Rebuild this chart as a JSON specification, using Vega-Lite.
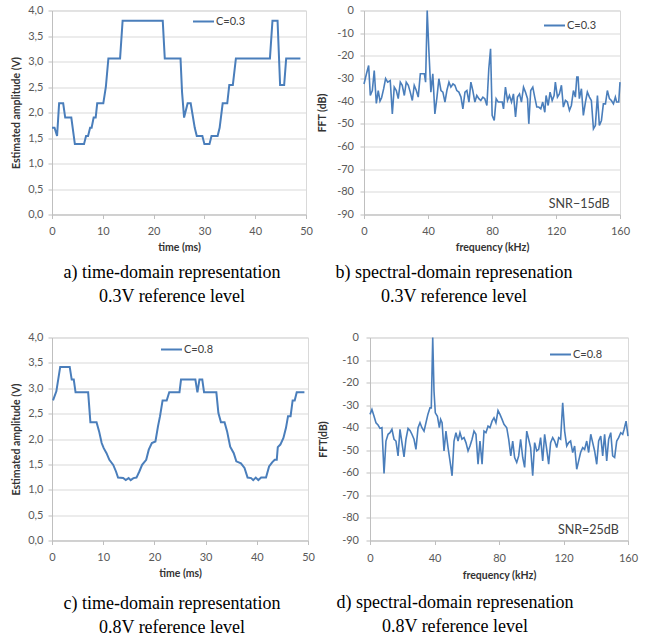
{
  "$schema": "https://vega.github.io/schema/vega-lite/v6.json",
  "background": "white",
  "padding": {"left": 11, "top": 3.5, "right": 0, "bottom": 0},
  "config": {
    "view": {"stroke": "#d9d9d9"},
    "axis": {
      "labelFont": "Lato", "labelFontSize": 11, "labelColor": "#595959",
      "titleFont": "Lato", "titleFontSize": 10.5, "titleFontWeight": "bold", "titleColor": "#333333",
      "domainColor": "#bfbfbf", "tickColor": "#bfbfbf", "tickSize": 4, "gridColor": "#d9d9d9",
      "labelOverlap": false, "labelFlush": false
    },
    "axisX": {"grid": false},
    "axisY": {"grid": true},
    "legend": {
      "orient": "none", "symbolType": "stroke", "symbolSize": 441, "symbolStrokeWidth": 2,
      "labelFont": "Lato", "labelFontSize": 11, "labelColor": "#404040", "padding": 0, "labelOffset": 1, "title": null
    },
    "title": {
      "orient": "bottom", "anchor": "middle", "font": "Liberation Serif", "fontSize": 18,
      "fontWeight": "normal", "color": "black", "lineHeight": 24, "offset": 11
    }
  },
  "datasets": {
    "a": [
      {"t":0,"v":1.7},{"t":0.5,"v":1.7},{"t":1.0,"v":1.54},{"t":1.4,"v":2.18},{"t":2.2,"v":2.18},{"t":2.6,"v":1.9},{"t":3.8,"v":1.9},{"t":4.5,"v":1.38},{"t":6.3,"v":1.38},{"t":6.7,"v":1.54},{"t":7.1,"v":1.54},{"t":7.5,"v":1.7},{"t":7.8,"v":1.7},{"t":8.2,"v":1.9},{"t":8.6,"v":1.9},{"t":8.9,"v":2.18},{"t":10.1,"v":2.18},{"t":10.6,"v":2.5},{"t":11.1,"v":3.06},{"t":13.4,"v":3.06},{"t":13.9,"v":3.8},{"t":21.8,"v":3.8},{"t":22.2,"v":3.06},{"t":25.3,"v":3.06},{"t":25.6,"v":2.4},{"t":26.0,"v":1.9},{"t":26.7,"v":2.18},{"t":27.3,"v":2.18},{"t":28.1,"v":1.7},{"t":28.5,"v":1.54},{"t":29.6,"v":1.54},{"t":30.0,"v":1.38},{"t":31.0,"v":1.38},{"t":31.4,"v":1.54},{"t":32.6,"v":1.54},{"t":33.0,"v":1.7},{"t":33.6,"v":2.18},{"t":34.5,"v":2.18},{"t":34.9,"v":2.54},{"t":35.6,"v":2.54},{"t":36.2,"v":3.06},{"t":42.9,"v":3.06},{"t":43.4,"v":3.8},{"t":44.4,"v":3.8},{"t":44.9,"v":2.54},{"t":45.7,"v":2.54},{"t":46.1,"v":3.06},{"t":48.9,"v":3.06}
    ],
    "b": [
      {"f":0,"db":-32.4},{"f":1.5,"db":-28},{"f":2.9,"db":-24.3},{"f":3.95,"db":-37.5},{"f":5.2,"db":-35.3},{"f":6.4,"db":-26.5},{"f":7.7,"db":-41},{"f":8.9,"db":-35.3},{"f":10,"db":-40},{"f":11,"db":-38.5},{"f":12.3,"db":-34.5},{"f":13.5,"db":-30},{"f":14.8,"db":-31.6},{"f":16.4,"db":-30.9},{"f":17.7,"db":-45.6},{"f":18.9,"db":-33.8},{"f":20.2,"db":-35.3},{"f":21.4,"db":-38.9},{"f":22.7,"db":-31.6},{"f":23.9,"db":-33},{"f":25.2,"db":-37.5},{"f":26.4,"db":-31.6},{"f":27.7,"db":-33},{"f":28.9,"db":-36},{"f":30.2,"db":-39.7},{"f":31.4,"db":-33},{"f":32.7,"db":-35.3},{"f":33.9,"db":-38.2},{"f":35.2,"db":-27.9},{"f":36.4,"db":-27.9},{"f":37.7,"db":-27.9},{"f":38.5,"db":-31.6},{"f":39.5,"db":0},{"f":40.6,"db":-18.4},{"f":41.8,"db":-36},{"f":43,"db":-27.9},{"f":44.3,"db":-45.6},{"f":45.6,"db":-38.2},{"f":46.8,"db":-30.1},{"f":48.1,"db":-35.3},{"f":49.3,"db":-36},{"f":50.6,"db":-40.4},{"f":51.8,"db":-35.3},{"f":53.1,"db":-31.6},{"f":54.3,"db":-33.8},{"f":55.6,"db":-32.4},{"f":56.8,"db":-33},{"f":58,"db":-35.3},{"f":59.3,"db":-36},{"f":60.6,"db":-38.2},{"f":61.8,"db":-43.4},{"f":63.1,"db":-36},{"f":64.3,"db":-35.3},{"f":65.6,"db":-40.4},{"f":66.8,"db":-31.6},{"f":68,"db":-35.3},{"f":69.3,"db":-40.4},{"f":70.5,"db":-37.5},{"f":71.8,"db":-38.9},{"f":73,"db":-39.7},{"f":74.3,"db":-38.2},{"f":75.5,"db":-38.9},{"f":76.8,"db":-41.9},{"f":78,"db":-25.7},{"f":79.1,"db":-16.9},{"f":80.1,"db":-46.3},{"f":81.4,"db":-48.5},{"f":82.6,"db":-38.9},{"f":83.9,"db":-40.4},{"f":85.1,"db":-40.4},{"f":86.4,"db":-40.4},{"f":87.2,"db":-43.4},{"f":88.4,"db":-33.8},{"f":89.7,"db":-39.7},{"f":90.9,"db":-37.5},{"f":92.2,"db":-40.4},{"f":93.4,"db":-36.8},{"f":94.7,"db":-47},{"f":95.9,"db":-38.2},{"f":97.2,"db":-36.8},{"f":98.4,"db":-40.4},{"f":99.7,"db":-33.8},{"f":100.9,"db":-36},{"f":102.2,"db":-38.9},{"f":103,"db":-50},{"f":104.2,"db":-35.3},{"f":105.5,"db":-33.8},{"f":106.7,"db":-38.2},{"f":108,"db":-42.6},{"f":109.2,"db":-42.6},{"f":110.5,"db":-43.4},{"f":111.7,"db":-40.4},{"f":113,"db":-44.9},{"f":113.8,"db":-37.5},{"f":115.1,"db":-41.9},{"f":116.3,"db":-36},{"f":117.6,"db":-39.7},{"f":118.8,"db":-37.5},{"f":119.6,"db":-31.6},{"f":120.9,"db":-38.2},{"f":122.1,"db":-36.8},{"f":123.4,"db":-33},{"f":124.6,"db":-42.6},{"f":125.9,"db":-39.7},{"f":127.1,"db":-40.4},{"f":128.4,"db":-44.1},{"f":129.6,"db":-41.9},{"f":130.9,"db":-35.3},{"f":132.1,"db":-38.2},{"f":133,"db":-29.4},{"f":133.8,"db":-29.4},{"f":134.6,"db":-38.9},{"f":135.9,"db":-34.5},{"f":137.1,"db":-46.3},{"f":138.4,"db":-40.4},{"f":139.6,"db":-36},{"f":140.9,"db":-38.2},{"f":142.1,"db":-39.7},{"f":143.4,"db":-52.2},{"f":144.6,"db":-50.7},{"f":145.9,"db":-37.5},{"f":147.1,"db":-50.7},{"f":148.4,"db":-48.5},{"f":149.6,"db":-41.2},{"f":150.9,"db":-41.2},{"f":152.1,"db":-35.3},{"f":153.4,"db":-38.9},{"f":154.6,"db":-39.7},{"f":155.9,"db":-41.2},{"f":157.1,"db":-38.2},{"f":157.9,"db":-40.4},{"f":159.2,"db":-40.4},{"f":160,"db":-31.6}
    ],
    "c": [
      {"t":0.2,"v":2.76},{"t":0.85,"v":2.94},{"t":1.6,"v":3.42},{"t":3.46,"v":3.42},{"t":3.85,"v":3.17},{"t":4.25,"v":3.17},{"t":4.6,"v":2.92},{"t":7.06,"v":2.92},{"t":7.5,"v":2.33},{"t":8.7,"v":2.33},{"t":9.2,"v":2.15},{"t":9.7,"v":1.92},{"t":10.1,"v":1.82},{"t":10.65,"v":1.72},{"t":11.2,"v":1.59},{"t":11.96,"v":1.49},{"t":12.5,"v":1.36},{"t":12.9,"v":1.24},{"t":13.9,"v":1.23},{"t":14.4,"v":1.19},{"t":14.97,"v":1.23},{"t":15.36,"v":1.19},{"t":15.9,"v":1.23},{"t":16.5,"v":1.24},{"t":17.06,"v":1.36},{"t":17.6,"v":1.49},{"t":18.4,"v":1.59},{"t":18.9,"v":1.79},{"t":19.5,"v":1.92},{"t":20.2,"v":1.95},{"t":20.7,"v":2.25},{"t":21.1,"v":2.45},{"t":21.6,"v":2.76},{"t":22.4,"v":2.76},{"t":22.9,"v":2.92},{"t":24.9,"v":2.92},{"t":25.2,"v":3.17},{"t":28.0,"v":3.17},{"t":28.4,"v":2.92},{"t":28.8,"v":3.17},{"t":29.35,"v":3.17},{"t":29.7,"v":2.92},{"t":32.1,"v":2.92},{"t":32.5,"v":2.51},{"t":33.0,"v":2.33},{"t":33.7,"v":2.33},{"t":34.2,"v":2.15},{"t":34.8,"v":1.85},{"t":35.5,"v":1.72},{"t":36.0,"v":1.56},{"t":36.9,"v":1.52},{"t":37.6,"v":1.43},{"t":38.2,"v":1.24},{"t":38.9,"v":1.23},{"t":39.3,"v":1.19},{"t":39.8,"v":1.24},{"t":40.3,"v":1.19},{"t":40.85,"v":1.24},{"t":41.8,"v":1.24},{"t":42.4,"v":1.46},{"t":43.0,"v":1.54},{"t":43.5,"v":1.59},{"t":43.9,"v":1.59},{"t":44.1,"v":1.84},{"t":44.6,"v":1.89},{"t":45.2,"v":2.02},{"t":45.7,"v":2.22},{"t":46.1,"v":2.45},{"t":46.6,"v":2.45},{"t":47.0,"v":2.76},{"t":47.4,"v":2.76},{"t":47.8,"v":2.92},{"t":49.3,"v":2.92}
    ],
    "d": [
      {"f":0,"db":-34.1},{"f":1.2,"db":-31.9},{"f":2.5,"db":-34.9},{"f":3.7,"db":-37.8},{"f":5,"db":-38.8},{"f":6.2,"db":-40.3},{"f":7.4,"db":-40},{"f":8.7,"db":-60.3},{"f":9.9,"db":-45.9},{"f":11.2,"db":-42.9},{"f":12.4,"db":-42.2},{"f":13.6,"db":-40.7},{"f":14.9,"db":-45.1},{"f":16.1,"db":-45.9},{"f":17.4,"db":-52.5},{"f":18.6,"db":-40.7},{"f":19.8,"db":-46.6},{"f":21.1,"db":-52.9},{"f":22.3,"db":-45.1},{"f":23.6,"db":-40.3},{"f":24.8,"db":-41.2},{"f":26,"db":-42.9},{"f":27.3,"db":-45.1},{"f":28.5,"db":-49.6},{"f":29.8,"db":-40},{"f":31,"db":-37.8},{"f":32.2,"db":-40},{"f":33.5,"db":-41.5},{"f":34.7,"db":-37.8},{"f":35.9,"db":-34.1},{"f":37.2,"db":-31.2},{"f":38,"db":-31.2},{"f":38.9,"db":0},{"f":39.7,"db":-23.8},{"f":40.5,"db":-33.4},{"f":41.8,"db":-34.9},{"f":43,"db":-40},{"f":43.8,"db":-36.3},{"f":44.7,"db":-37.8},{"f":45.9,"db":-50.3},{"f":47.1,"db":-41.5},{"f":48.4,"db":-48.8},{"f":49.6,"db":-54.7},{"f":50.9,"db":-61.3},{"f":52.1,"db":-45.9},{"f":53.3,"db":-42.2},{"f":54.6,"db":-45.9},{"f":55.8,"db":-42.2},{"f":57,"db":-45.1},{"f":58.3,"db":-44.4},{"f":59.5,"db":-46.6},{"f":60.8,"db":-50.3},{"f":62,"db":-48.1},{"f":63.3,"db":-45.1},{"f":64.5,"db":-41.5},{"f":65.7,"db":-42.9},{"f":67,"db":-56.2},{"f":68.2,"db":-45.9},{"f":69.5,"db":-56.2},{"f":70.7,"db":-41.5},{"f":71.9,"db":-42.2},{"f":73.2,"db":-39.3},{"f":74.4,"db":-40},{"f":75.7,"db":-37.1},{"f":76.9,"db":-35.6},{"f":78.1,"db":-37.8},{"f":79.4,"db":-32.4},{"f":80.6,"db":-34.1},{"f":81.9,"db":-36.3},{"f":83.1,"db":-38.5},{"f":84.8,"db":-40},{"f":86,"db":-45.1},{"f":87.3,"db":-52.5},{"f":88.5,"db":-45.9},{"f":89.7,"db":-53.2},{"f":91,"db":-55.4},{"f":92.2,"db":-52.5},{"f":93.4,"db":-45.1},{"f":94.7,"db":-53.2},{"f":95.9,"db":-57.6},{"f":97.2,"db":-41.5},{"f":98.4,"db":-45.1},{"f":99.6,"db":-48.8},{"f":100.9,"db":-61.3},{"f":102.1,"db":-46.6},{"f":103.4,"db":-50.3},{"f":104.6,"db":-49.6},{"f":105.8,"db":-44.4},{"f":107.1,"db":-54.7},{"f":108.3,"db":-42.9},{"f":109.6,"db":-49.6},{"f":110.8,"db":-56.2},{"f":112,"db":-46.6},{"f":113.3,"db":-44.4},{"f":114.5,"db":-45.9},{"f":115.8,"db":-48.8},{"f":117,"db":-44.4},{"f":118.2,"db":-45.1},{"f":119.5,"db":-29},{"f":120.7,"db":-41.5},{"f":122,"db":-48.1},{"f":123.2,"db":-46.6},{"f":124.4,"db":-45.9},{"f":125.7,"db":-51},{"f":126.9,"db":-48.1},{"f":128.2,"db":-58.4},{"f":129.4,"db":-54.7},{"f":130.6,"db":-51},{"f":131.9,"db":-48.8},{"f":133.1,"db":-49.6},{"f":134.4,"db":-45.9},{"f":135.6,"db":-51},{"f":136.9,"db":-42.9},{"f":138.1,"db":-46.6},{"f":139.3,"db":-50.3},{"f":140.6,"db":-56.2},{"f":141.8,"db":-45.9},{"f":143.1,"db":-43.7},{"f":144.3,"db":-52.5},{"f":145.5,"db":-42.9},{"f":146.8,"db":-54.7},{"f":148,"db":-45.1},{"f":149.3,"db":-42.2},{"f":150.5,"db":-52.5},{"f":151.7,"db":-53.2},{"f":153,"db":-45.9},{"f":154.2,"db":-44.4},{"f":155.5,"db":-42.2},{"f":156.7,"db":-42.9},{"f":157.6,"db":-40.7},{"f":158.8,"db":-37.1},{"f":160,"db":-43.7}
    ]
  },
  "resolve": {"scale": {"color": "independent"}, "legend": {"color": "independent"}},
  "spacing": 24,
  "vconcat": [
    {
      "spacing": 3,
      "resolve": {"scale": {"color": "independent"}, "legend": {"color": "independent"}},
      "hconcat": [
        {
          "width": 254, "height": 204,
          "title": {"text": ["a) time-domain representation", "0.3V reference level"], "dx": -7},
          "data": {"name": "a"},
          "mark": {"type": "line", "strokeWidth": 2},
          "encoding": {
            "x": {"field": "t", "type": "quantitative", "scale": {"domain": [0, 50], "nice": false},
                  "axis": {"title": "time (ms)", "values": [0,10,20,30,40,50], "tickCount": 6, "labelPadding": 7, "titlePadding": 5.5, "labelOverlap": false}},
            "y": {"field": "v", "type": "quantitative", "scale": {"domain": [0, 4], "nice": false},
                  "axis": {"title": "Estimated amplitude  (V)", "values": [0,0.5,1,1.5,2,2.5,3,3.5,4], "tickCount": 9,
                           "labelExpr": "replace(format(datum.value,'.1f'),'.',',')", "labelOverlap": false,
                           "labelPadding": 5, "minExtent": 24, "maxExtent": 24, "titlePadding": 6.5}},
            "color": {"datum": "C=0.3", "scale": {"range": ["#4A7EBB"]},
                      "legend": {"legendX": 140, "legendY": -0.5}}
          }
        },
        {
          "width": 256, "height": 204,
          "title": {"text": ["b) spectral-domain represenation", "0.3V reference level"], "dx": -38},
          "layer": [
            {
              "data": {"name": "b"},
              "mark": {"type": "line", "strokeWidth": 1.6},
              "encoding": {
                "x": {"field": "f", "type": "quantitative", "scale": {"domain": [0, 160], "nice": false},
                      "axis": {"title": "frequency (kHz)", "values": [0,40,80,120,160], "tickCount": 5, "labelPadding": 7, "titlePadding": 6, "labelOverlap": false}},
                "y": {"field": "db", "type": "quantitative", "scale": {"domain": [-90, 0], "nice": false},
                      "axis": {"title": "FFT (dB)", "values": [-90,-80,-70,-60,-50,-40,-30,-20,-10,0], "tickCount": 10,
                               "labelExpr": "'' + datum.value", "labelOverlap": false,
                               "labelPadding": 6.5, "minExtent": 24, "maxExtent": 24, "titlePadding": 12.7}},
                "color": {"datum": "C=0.3", "scale": {"range": ["#4A7EBB"]},
                          "legend": {"legendX": 179, "legendY": 3.5}}
              }
            },
            {
              "data": {"values": [{"f": 134.5, "db": -85.3, "label": "SNR−15dB"}]},
              "mark": {"type": "text", "font": "Lato", "fontSize": 12.5, "color": "#404040", "align": "center", "baseline": "middle"},
              "encoding": {
                "x": {"field": "f", "type": "quantitative", "axis": {"tickCount": 5}},
                "y": {"field": "db", "type": "quantitative", "axis": {"tickCount": 10}},
                "text": {"field": "label"}
              }
            }
          ]
        }
      ]
    },
    {
      "spacing": 2,
      "resolve": {"scale": {"color": "independent"}, "legend": {"color": "independent"}},
      "hconcat": [
        {
          "width": 256, "height": 203,
          "title": {"text": ["c) time-domain representation", "0.8V reference level"], "dx": -8, "offset": 16},
          "data": {"name": "c"},
          "mark": {"type": "line", "strokeWidth": 2},
          "encoding": {
            "x": {"field": "t", "type": "quantitative", "scale": {"domain": [0, 50], "nice": false},
                  "axis": {"title": "time (ms)", "values": [0,10,20,30,40,50], "tickCount": 6, "labelPadding": 7, "titlePadding": 5.5, "labelOverlap": false}},
            "y": {"field": "v", "type": "quantitative", "scale": {"domain": [0, 4], "nice": false},
                  "axis": {"title": "Estimated amplitude (V)", "values": [0,0.5,1,1.5,2,2.5,3,3.5,4], "tickCount": 9,
                           "labelExpr": "replace(format(datum.value,'.1f'),'.',',')", "labelOverlap": false,
                           "labelPadding": 5, "minExtent": 24, "maxExtent": 24, "titlePadding": 6.5}},
            "color": {"datum": "C=0.8", "scale": {"range": ["#4A7EBB"]},
                      "legend": {"legendX": 108, "legendY": 0.5}}
          }
        },
        {
          "width": 258, "height": 203,
          "title": {"text": ["d) spectral-domain represenation", "0.8V reference level"], "dx": -44, "offset": 13},
          "layer": [
            {
              "data": {"name": "d"},
              "mark": {"type": "line", "strokeWidth": 1.6},
              "encoding": {
                "x": {"field": "f", "type": "quantitative", "scale": {"domain": [0, 160], "nice": false},
                      "axis": {"title": "frequency (kHz)", "values": [0,40,80,120,160], "tickCount": 5, "labelPadding": 8, "titlePadding": 7, "labelOverlap": false}},
                "y": {"field": "db", "type": "quantitative", "scale": {"domain": [-90, 0], "nice": false},
                      "axis": {"title": "FFT(dB)", "values": [-90,-80,-70,-60,-50,-40,-30,-20,-10,0], "tickCount": 10,
                               "labelExpr": "'' + datum.value", "labelOverlap": false,
                               "labelPadding": 7.5, "minExtent": 26, "maxExtent": 26, "titlePadding": 15.7}},
                "color": {"datum": "C=0.8", "scale": {"range": ["#4A7EBB"]},
                          "legend": {"legendX": 179, "legendY": 5.5}}
              }
            },
            {
              "data": {"values": [{"f": 135.4, "db": -85.3, "label": "SNR=25dB"}]},
              "mark": {"type": "text", "font": "Lato", "fontSize": 12.5, "color": "#404040", "align": "center", "baseline": "middle"},
              "encoding": {
                "x": {"field": "f", "type": "quantitative", "axis": {"tickCount": 5}},
                "y": {"field": "db", "type": "quantitative", "axis": {"tickCount": 10}},
                "text": {"field": "label"}
              }
            }
          ]
        }
      ]
    }
  ]
}
